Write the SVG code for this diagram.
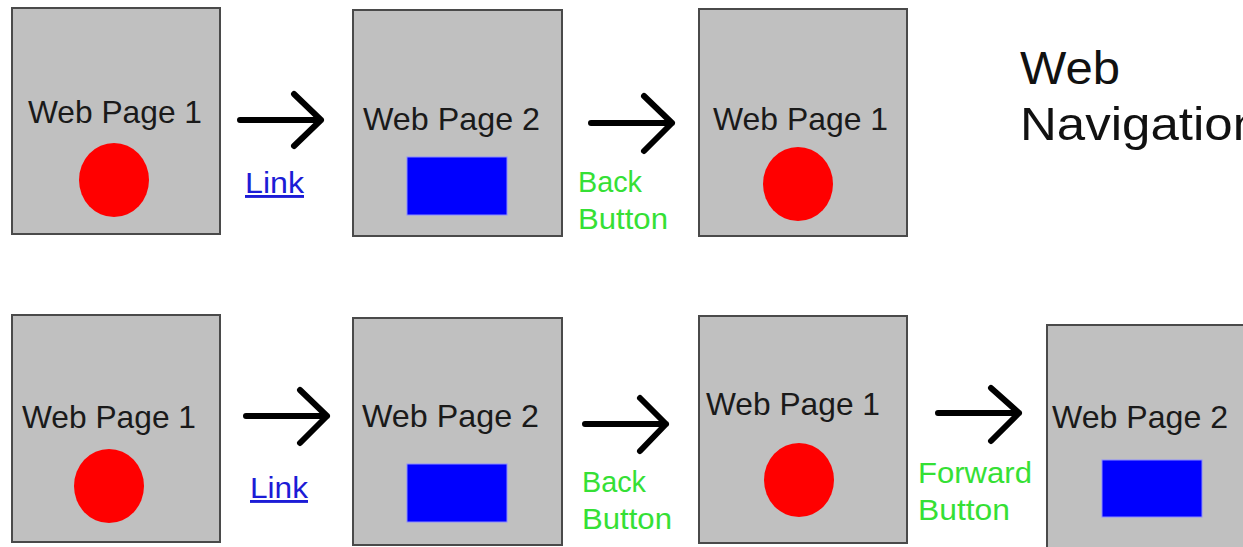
<svg xmlns="http://www.w3.org/2000/svg" width="1243" height="547" viewBox="0 0 1243 547">
<style>
.page{fill:#c0c0c0;stroke:#4a4a4a;stroke-width:2}
.t{font-family:"Liberation Sans",Arial,sans-serif;font-size:31.5px;fill:#1a1a1a}
.dot{fill:#ff0000}
.sq{fill:#0000ff;stroke:#8c8cff;stroke-width:1}
.arr{fill:none;stroke:#000;stroke-width:6;stroke-linecap:round;stroke-linejoin:round}
.lnk{font-family:"Liberation Sans",Arial,sans-serif;font-size:29px;fill:#1c1cd6;text-decoration:underline}
.btn{font-family:"Liberation Sans",Arial,sans-serif;font-size:30px;fill:#35e035}
.title{font-family:"Liberation Sans",Arial,sans-serif;font-size:46px;fill:#111}
</style>
<rect width="1243" height="547" fill="#fff"/>
<g id="r1p1"><rect class="page" x="12" y="8" width="208" height="226"/><text class="t" x="28" y="123" textLength="174" lengthAdjust="spacingAndGlyphs">Web Page 1</text><ellipse class="dot" cx="114" cy="180" rx="35" ry="37"/></g>
<g id="r1p2"><rect class="page" x="353" y="10" width="209" height="226"/><text class="t" x="363" y="130" textLength="177" lengthAdjust="spacingAndGlyphs">Web Page 2</text><rect class="sq" x="407" y="157" width="100" height="58"/></g>
<g id="r1p3"><rect class="page" x="699" y="9" width="208" height="227"/><text class="t" x="713" y="130" textLength="175" lengthAdjust="spacingAndGlyphs">Web Page 1</text><ellipse class="dot" cx="798" cy="184" rx="35" ry="37"/></g>
<g id="title"><text class="title" x="1020" y="84" textLength="100" lengthAdjust="spacingAndGlyphs">Web</text><text class="title" x="1020" y="140" textLength="241" lengthAdjust="spacingAndGlyphs">Navigation</text></g>
<g id="r2p1"><rect class="page" x="12" y="315" width="208" height="227"/><text class="t" x="22" y="428" textLength="174" lengthAdjust="spacingAndGlyphs">Web Page 1</text><ellipse class="dot" cx="109" cy="486" rx="35" ry="37"/></g>
<g id="r2p2"><rect class="page" x="353" y="318" width="209" height="227"/><text class="t" x="362" y="427" textLength="177" lengthAdjust="spacingAndGlyphs">Web Page 2</text><rect class="sq" x="407" y="464" width="100" height="58"/></g>
<g id="r2p3"><rect class="page" x="699" y="316" width="208" height="227"/><text class="t" x="706" y="415" textLength="174" lengthAdjust="spacingAndGlyphs">Web Page 1</text><ellipse class="dot" cx="799" cy="480" rx="35" ry="37"/></g>
<g id="r2p4"><rect class="page" x="1047" y="325" width="210" height="230"/><text class="t" x="1052" y="428" textLength="176" lengthAdjust="spacingAndGlyphs">Web Page 2</text><rect class="sq" x="1102" y="460" width="100" height="57"/></g>
<g id="connectors">
<path class="arr" d="M240 120H321M294 94L321 120L294 146"/>
<path class="arr" d="M591 123H672M644 96L672 123L644 151"/>
<path class="arr" d="M246 416H327M300 390L327 416L300 443"/>
<path class="arr" d="M585 424H666M640 398L666 424L640 451"/>
<path class="arr" d="M938 413H1019M991 388L1019 413L991 441"/>
<text class="lnk" x="245" y="193" textLength="59" lengthAdjust="spacingAndGlyphs">Link</text>
<text class="btn" x="578" y="192" textLength="64" lengthAdjust="spacingAndGlyphs">Back</text>
<text class="btn" x="578" y="229" textLength="90" lengthAdjust="spacingAndGlyphs">Button</text>
<text class="lnk" x="250" y="498" textLength="58" lengthAdjust="spacingAndGlyphs">Link</text>
<text class="btn" x="582" y="492" textLength="64" lengthAdjust="spacingAndGlyphs">Back</text>
<text class="btn" x="582" y="529" textLength="90" lengthAdjust="spacingAndGlyphs">Button</text>
<text class="btn" x="918" y="483" textLength="114" lengthAdjust="spacingAndGlyphs">Forward</text>
<text class="btn" x="918" y="520" textLength="92" lengthAdjust="spacingAndGlyphs">Button</text>
</g>
</svg>
